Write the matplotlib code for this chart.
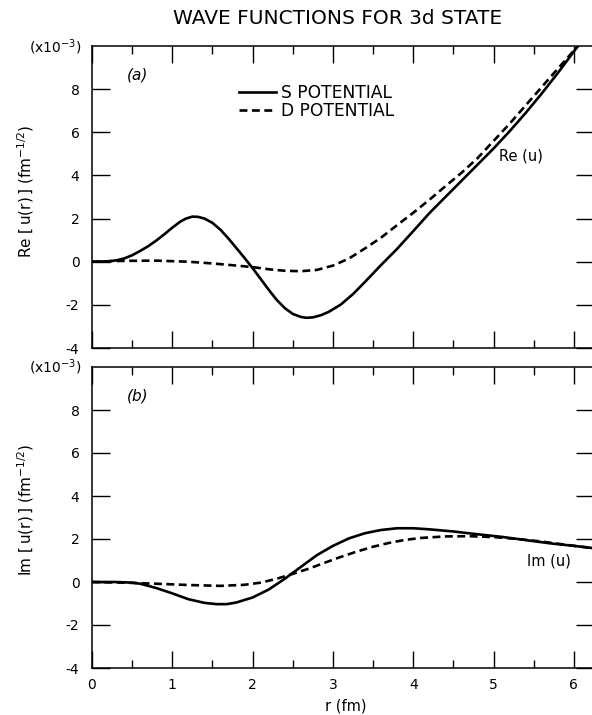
import matplotlib
matplotlib.use("Agg")
import matplotlib.pyplot as plt
from matplotlib.ticker import MultipleLocator

plt.rcParams['font.family'] = ['DejaVu Sans']
plt.rcParams['mathtext.fontset'] = 'dejavusans'
plt.rcParams['axes.unicode_minus'] = False

# ---- data, units of 1e-3 fm^-1/2 ----
re_s_r = [0, 0.2, 0.3, 0.4, 0.5, 0.6, 0.7, 0.8, 0.9, 1.0, 1.1, 1.17, 1.25, 1.32, 1.4,
          1.5, 1.6, 1.7, 1.8, 1.9, 2.0, 2.1, 2.2, 2.3, 2.4, 2.5, 2.6, 2.67, 2.75, 2.85,
          2.95, 3.1, 3.25, 3.4, 3.6, 3.8, 4.0, 4.2, 4.4, 4.6, 4.8, 5.0, 5.2, 5.4, 5.6,
          5.8, 6.05]
re_s_v = [0, 0.02, 0.06, 0.15, 0.30, 0.50, 0.72, 0.98, 1.27, 1.58, 1.86, 2.0, 2.09,
          2.08, 2.0, 1.8, 1.48, 1.07, 0.62, 0.17, -0.30, -0.80, -1.30, -1.77, -2.15,
          -2.42, -2.56, -2.60, -2.58, -2.48, -2.32, -1.98, -1.50, -0.93, -0.15, 0.6,
          1.42, 2.25, 3.0, 3.75, 4.5, 5.25, 6.05, 6.9, 7.8, 8.75, 10.0]

re_d_r = [0, 0.4, 0.8, 1.2, 1.5, 1.8, 2.0, 2.2, 2.4, 2.6, 2.8, 3.0, 3.2, 3.4, 3.6, 3.8,
          4.0, 4.2, 4.4, 4.6, 4.8, 5.0, 5.2, 5.4, 5.6, 5.8, 6.05]
re_d_v = [0, 0.04, 0.05, 0.0, -0.08, -0.18, -0.25, -0.35, -0.42, -0.44, -0.38, -0.18,
          0.15, 0.62, 1.12, 1.70, 2.27, 2.87, 3.5, 4.12, 4.8, 5.6, 6.4, 7.25, 8.1,
          8.95, 10.0]

im_s_r = [0, 0.3, 0.5, 0.6, 0.8, 1.0, 1.2, 1.4, 1.55, 1.68, 1.8, 2.0, 2.2, 2.4, 2.6,
          2.8, 3.0, 3.2, 3.4, 3.6, 3.8, 4.0, 4.2, 4.5, 4.8, 5.1, 5.4, 5.7, 6.0, 6.25]
im_s_v = [0, 0.0, -0.03, -0.08, -0.28, -0.53, -0.80, -0.97, -1.03, -1.03, -0.95, -0.72,
          -0.35, 0.15, 0.70, 1.25, 1.68, 2.03, 2.27, 2.42, 2.50, 2.50, 2.45, 2.35, 2.22,
          2.10, 1.95, 1.80, 1.68, 1.57]

im_d_r = [0, 0.4, 0.8, 1.2, 1.6, 1.9, 2.1, 2.3, 2.5, 2.7, 2.9, 3.1, 3.3, 3.5, 3.7, 3.9,
          4.1, 4.4, 4.7, 5.0, 5.3, 5.6, 5.9, 6.25]
im_d_v = [0, -0.03, -0.08, -0.14, -0.18, -0.13, -0.03, 0.15, 0.38, 0.62, 0.9, 1.17,
          1.42, 1.64, 1.82, 1.96, 2.05, 2.12, 2.13, 2.09, 2.0, 1.88, 1.73, 1.57]

x_ticks = [0, 1, 2, 3, 4, 5, 6]
y_ticks = [-4, -2, 0, 2, 4, 6, 8]
legend_labels = ["S POTENTIAL", "D POTENTIAL"]

W, H = 592, 715
fig = plt.figure(figsize=(W / 100, H / 100), dpi=100)

def fx(px):
    return px / W

def fy(py):
    return 1 - py / H

left = fx(92)
width = fx(594) - left
ax1 = fig.add_axes([left, fy(348), width, fy(46) - fy(348)])
ax2 = fig.add_axes([left, fy(668), width, fy(367) - fy(668)])

LW = 1.9
DASH = (3.0, 1.7)

for ax in (ax1, ax2):
    ax.set_xlim(0, 6.25)
    ax.set_ylim(-4, 10)
    ax.set_xticks(x_ticks)
    ax.xaxis.set_minor_locator(MultipleLocator(0.5))
    ax.set_yticks(y_ticks)
    ax.tick_params(axis='y', which='major', direction='in', left=True, right=True,
                   length=13, width=1.0, labelsize=10, pad=9)
    ax.tick_params(axis='x', which='major', direction='in', top=True, bottom=True,
                   length=12, width=1.0, labelsize=10, pad=7)
    ax.tick_params(axis='x', which='minor', direction='in', top=True, bottom=True,
                   length=5.5, width=1.0)
    for s in ax.spines.values():
        s.set_linewidth(1.1)

ax1.tick_params(axis='x', labelbottom=False)

l1, = ax1.plot(re_s_r, re_s_v, color='black', lw=LW)
l2, = ax1.plot(re_d_r, re_d_v, color='black', lw=LW, linestyle=(0, DASH))
ax2.plot(im_s_r, im_s_v, color='black', lw=LW)
ax2.plot(im_d_r, im_d_v, color='black', lw=LW, linestyle=(0, DASH))

leg = ax1.legend([l1, l2], legend_labels, loc='upper left',
                 bbox_to_anchor=(fx(239), fy(84)), bbox_transform=fig.transFigure,
                 frameon=False, fontsize=12.3, handlelength=2.15, handletextpad=0.28,
                 labelspacing=0.0, borderpad=0, borderaxespad=0)

ax1.text(0.57, 8.65, "(a)", fontsize=11, fontstyle='italic', ha='center', va='center')
ax2.text(0.57, 8.65, "(b)", fontsize=11, fontstyle='italic', ha='center', va='center')

ax1.text(5.34, 4.9, "Re (u)", fontsize=10.5, ha='center', va='center')
ax2.text(5.69, 0.98, "Im (u)", fontsize=10.5, ha='center', va='center')

fig.text(fx(26), fy(191), r"Re $\left[\,\mathrm{u(r)}\,\right]$ (fm$^{-1/2}$)",
         fontsize=11, rotation=90, ha='center', va='center')
fig.text(fx(26), fy(510), r"Im $\left[\,\mathrm{u(r)}\,\right]$ (fm$^{-1/2}$)",
         fontsize=11, rotation=90, ha='center', va='center')

fig.text(fx(346), fy(706), "r (fm)", fontsize=10.5, ha='center', va='center')

fig.text(fx(81), fy(47), r"(x10$^{-3}$)", fontsize=10, ha='right', va='center')
fig.text(fx(81), fy(367), r"(x10$^{-3}$)", fontsize=10, ha='right', va='center')

fig.text(fx(338), fy(18), "WAVE FUNCTIONS FOR 3d STATE", fontsize=14.5,
         ha='center', va='center')

fig.savefig("out.png", dpi=100)
